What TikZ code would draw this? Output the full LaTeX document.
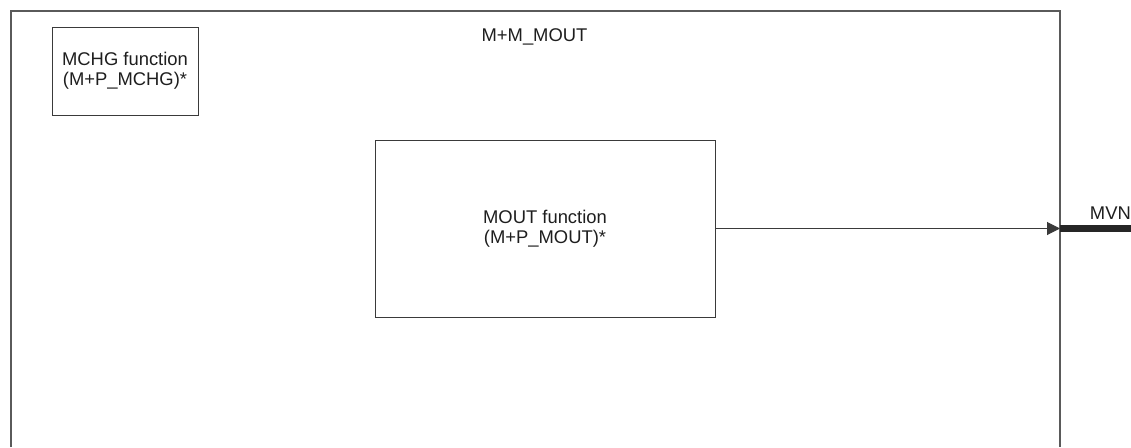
\documentclass[tikz,border=0pt]{standalone}
\usepackage{fontspec}
\setmainfont{Liberation Sans}
\usetikzlibrary{arrows.meta,positioning}
\definecolor{linegray}{HTML}{3A3A3A}
\definecolor{framegray}{HTML}{5A5A5A}
\definecolor{textgray}{HTML}{1E1E1E}
\begin{document}
\begin{tikzpicture}[x=1pt,y=-1pt,
    fbox/.style={draw=linegray,line width=1pt,align=center,inner sep=0pt,text=textgray,
        font=\fontsize{18.4}{20}\selectfont},
    lbl/.style={text=textgray,inner sep=0pt,font=\fontsize{18.4}{20}\selectfont}]
        \useasboundingbox (0,0) rectangle (1131,447);

        % Outer frame (cut off at the bottom)
        \coordinate (TL) at (11,11);
        \coordinate (TR) at (1060,11);
        \draw[draw=framegray,line width=2pt] (11,447) -- (TL) -- (TR) -- (1060,447);
        \node[lbl] (title) at (534.5,36.5) {M+M\_MOUT};

        % Function blocks
        \node[fbox,minimum width=146,minimum height=88] (mchg) at (125,71)
            {MCHG function\\(M+P\_MCHG)*};
        \node[fbox,minimum width=340,minimum height=177] (mout) at (545,228.5)
            {MOUT function\\(M+P\_MOUT)*};

        % Output
        \coordinate (port) at (1060,228.5);
        \coordinate (end) at (1131,228.5);
        \draw[linegray,line width=1pt,-{Triangle[length=13,width=13]}] (mout.east) -- (port);
        \draw[black!85,line width=7pt] (port) -- (end);
        \node[lbl,anchor=base east] (mvn) at (1131,219) {MVN};

    \end{tikzpicture}
\end{document}
